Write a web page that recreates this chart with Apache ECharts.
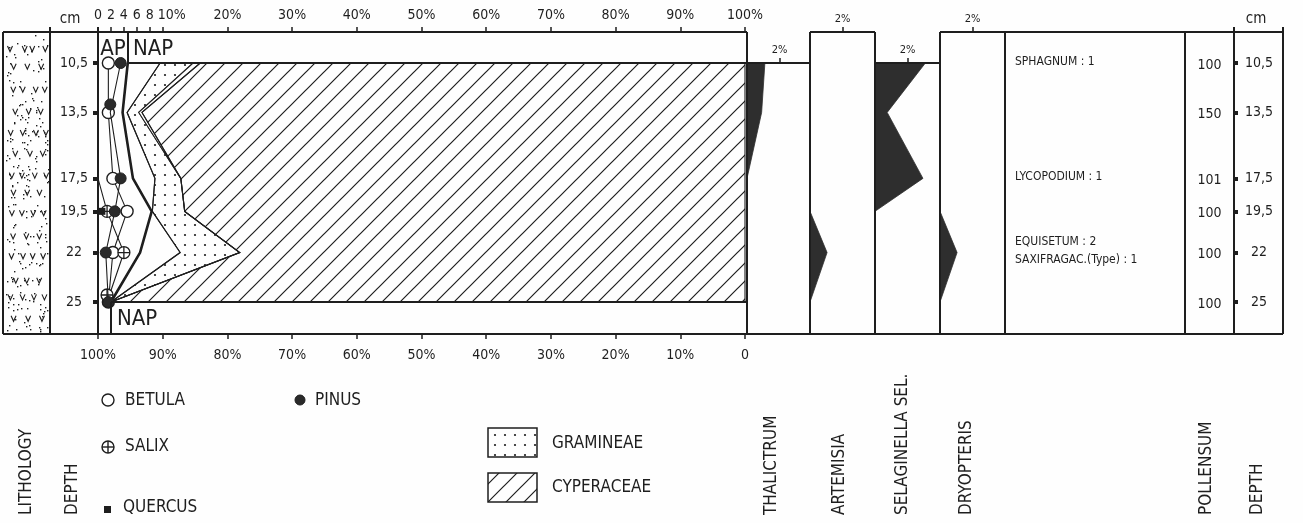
<!DOCTYPE html>
<html>
<head>
<meta charset="utf-8">
<script src="https://cdn.jsdelivr.net/npm/echarts@6/dist/echarts.min.js"></script>
<style>
  html, body { margin: 0; padding: 0; background: #fefefe; }
  #chart { width: 1303px; height: 523px; }
</style>
</head>
<body>
<div id="chart"></div>
<script>
// sample depths (cm) and their labels
const depths = [10.5, 13.5, 17.5, 19.5, 22, 25];
const depthLabels = ['10,5', '13,5', '17,5', '19,5', '22', '25'];

// AP taxa, % of total pollen
const betula = [1.6, 1.6, 2.3, 4.5, 2.3, 1.6];
const pinus = [3.5, 1.9, 3.5, 2.6, 1.2, 1.6];
const salix = [null, null, 0, 1.4, 4.0, 1.4];
const quercus = [null, null, null, 0.6, null, null];
const apSum = [4.6, 3.8, 5.4, 8.3, 6.5, 2.0];

// NAP bands stacked on top of AP sum
const otherNap = [5.0, 0.7, 3.4, 0.1, 6.2, 0];
const gramineae = [5.1, 1.8, 4.0, 5.0, 9.2, 0];
const gapNap = [1.1, 0.5, 0, 0, 0, 0];
const cyperaceae = [84.2, 93.2, 87.2, 86.6, 78.1, 98.0];

// small panels (%)
const thalictrum = [1.1, 0.9, 0, 0, 0, 0];
const artemisia = [0, 0, 0, 0, 1.05, 0];
const selaginella = [3.1, 0.75, 2.95, 0, 0, 0];
const dryopteris = [0, 0, 0, 0, 1.05, 0];

const pollenSum = [100, 150, 101, 100, 100, 100];

const topTicks = [0, 2, 4, 6, 8, 10, 20, 30, 40, 50, 60, 70, 80, 90, 100];
const bottomTicks = [0, 10, 20, 30, 40, 50, 60, 70, 80, 90, 100];

const INK = '#1e1e1e';
const FONT = "'DejaVu Sans Condensed', 'DejaVu Sans', sans-serif";

function makeCanvas(w, h, draw) {
  const c = document.createElement('canvas');
  c.width = w; c.height = h;
  draw(c.getContext('2d'));
  return c;
}

// fill textures
const dotTile = makeCanvas(10, 10, g => {
  g.fillStyle = INK;
  g.beginPath(); g.arc(5, 5, 1.1, 0, Math.PI * 2); g.fill();
});
const hatchTile = makeCanvas(18, 18, g => {
  g.strokeStyle = INK; g.lineWidth = 1.2;
  g.beginPath();
  g.moveTo(-2, 20); g.lineTo(20, -2);
  g.moveTo(-2, 2); g.lineTo(2, -2);
  g.moveTo(16, 20); g.lineTo(20, 16);
  g.stroke();
});
function hash(n) { const s = Math.sin(n * 12.9898) * 43758.5453; return s - Math.floor(s); }
const lithoImg = makeCanvas(46, 301, g => {
  g.fillStyle = INK; g.strokeStyle = INK; g.lineWidth = 1.1;
  for (let i = 0; i < 210; i++) {
    const x = 2 + hash(i + 1) * 42, y = 2 + hash(i + 500) * 297;
    g.fillRect(Math.round(x), Math.round(y), 1.4, 1.4);
  }
  for (let r = 0; r < 14; r++) {
    const y = 12 + r * 21 + hash(r + 90) * 5;
    const n = r % 2 ? 3 : 4;
    for (let k = 0; k < n; k++) {
      const x = (r % 2 ? 9 : 6) + k * (r % 2 ? 13 : 11) + hash(r * 7 + k) * 4;
      g.beginPath(); g.moveTo(x - 2.5, y - 3); g.lineTo(x, y + 2.5); g.lineTo(x + 2.5, y - 3); g.stroke();
    }
  }
});

const fillDots = { image: dotTile, repeat: 'repeat' };
const fillHatch = { image: hatchTile, repeat: 'repeat' };

// stack the NAP bands starting from the AP sum
const bands = [
  { values: otherNap, fill: '#fefefe' },
  { values: gramineae, fill: fillDots },
  { values: gapNap, fill: '#fefefe' },
  { values: cyperaceae, fill: fillHatch }
];
let acc = apSum.slice();
bands.forEach(b => {
  b.lower = acc.slice();
  acc = acc.map((v, i) => v + b.values[i]);
  b.upper = acc.slice();
});

function bandItem(params, api) {
  const b = bands[api.value(2)];
  const pts = [];
  depths.forEach((d, i) => pts.push(api.coord([b.upper[i], d])));
  for (let i = depths.length - 1; i >= 0; i--) pts.push(api.coord([b.lower[i], depths[i]]));
  return { type: 'polygon', shape: { points: pts }, style: { fill: b.fill, stroke: INK, lineWidth: 1.1 } };
}

function silhouette(values) {
  return function (params, api) {
    const pts = [api.coord([0, depths[0]])];
    depths.forEach((d, i) => pts.push(api.coord([values[i], d])));
    pts.push(api.coord([0, depths[depths.length - 1]]));
    return { type: 'polygon', shape: { points: pts }, style: { fill: '#2e2e2e', stroke: '#2e2e2e', lineWidth: 0.8 } };
  };
}

function pairs(vals) {
  const out = [];
  vals.forEach((v, i) => { if (v !== null) out.push([v, depths[i]]); });
  return out;
}

const salixSymbol = 'path://M12,2A10,10,0,1,1,12,22A10,10,0,1,1,12,2ZM2,12L22,12M12,2L12,22';

const pinusData = pairs(pinus).map((p, i) => i === 1 ? { value: p, symbolOffset: [0, -8] } : p);
const salixData = pairs(salix).map(p => {
  if (p[0] === 0) return { value: p, symbol: 'none' };
  if (p[1] === 25) return { value: p, symbolOffset: [0, -7] };
  return p;
});

const hiddenY = i => ({ type: 'value', gridIndex: i, min: 10.5, max: 25, inverse: true,
  axisLine: { show: false }, axisTick: { show: false }, axisLabel: { show: false }, splitLine: { show: false } });

function panelX(grid, max, offset) {
  return {
    type: 'value', gridIndex: grid, position: 'top', offset: offset, min: 0, max: max,
    axisLine: { show: false }, splitLine: { show: false },
    axisTick: { show: true, customValues: [2], length: 5, lineStyle: { color: INK, width: 1.5 } },
    axisLabel: { show: true, customValues: [2], formatter: '{value}%', margin: 7, color: INK, fontFamily: FONT, fontSize: 11 }
  };
}

// frame and decoration
const gl = (x1, y1, x2, y2, w) => ({ type: 'line', z: 50, shape: { x1, y1, x2, y2 }, style: { stroke: INK, lineWidth: w || 2 } });
const gt = (x, y, text, size, extra) => ({ type: 'text', z: 50, x, y,
  style: Object.assign({ text, fill: INK, font: size + 'px ' + FONT, textAlign: 'center', textVerticalAlign: 'middle' }, extra || {}) });
const vt = (x, text) => ({ type: 'text', z: 50, x, y: 515, rotation: Math.PI / 2,
  style: { text, fill: INK, font: '17px ' + FONT, textAlign: 'left', textVerticalAlign: 'middle' } });

const graphics = [
  { type: 'image', z: 40, x: 4, y: 33, style: { image: lithoImg, width: 46, height: 301 } },
  gl(3, 32, 747, 32), gl(810, 32, 875, 32), gl(940, 32, 1283, 32),
  gl(747, 63, 810, 63), gl(875, 63, 940, 63), gl(128, 63, 747, 63),
  gl(3, 334, 1283, 334),
  gl(3, 32, 3, 334), gl(50, 27, 50, 334), gl(98, 27, 98, 334), gl(747, 32, 747, 334),
  gl(810, 32, 810, 334), gl(875, 32, 875, 334), gl(940, 32, 940, 334), gl(1005, 32, 1005, 334),
  gl(1185, 32, 1185, 334), gl(1234, 27, 1234, 334), gl(1283, 27, 1283, 334),
  gl(128, 32, 128, 63), gl(111, 302, 747, 302), gl(111, 302, 111, 334),
  gt(70, 19, 'cm', 15), gt(1256, 19, 'cm', 15),
  gt(113, 49, 'AP', 22), gt(133, 49, 'NAP', 22, { textAlign: 'left' }),
  gt(117, 319, 'NAP', 22, { textAlign: 'left' }),
  gt(1015, 62, 'SPHAGNUM : 1', 12, { textAlign: 'left' }),
  gt(1015, 177, 'LYCOPODIUM : 1', 12, { textAlign: 'left' }),
  gt(1015, 242, 'EQUISETUM : 2', 12, { textAlign: 'left' }),
  gt(1015, 260, 'SAXIFRAGAC.(Type) : 1', 12, { textAlign: 'left' }),
  // legend
  { type: 'circle', z: 50, shape: { cx: 108, cy: 400, r: 6 }, style: { fill: '#fff', stroke: INK, lineWidth: 1.4 } },
  gt(125, 401, 'BETULA', 17, { textAlign: 'left' }),
  { type: 'circle', z: 50, shape: { cx: 300, cy: 400, r: 5 }, style: { fill: '#2a2a2a', stroke: INK, lineWidth: 1 } },
  gt(315, 401, 'PINUS', 17, { textAlign: 'left' }),
  { type: 'circle', z: 50, shape: { cx: 108, cy: 447, r: 6 }, style: { fill: '#fff', stroke: INK, lineWidth: 1.4 } },
  gl(102, 447, 114, 447, 1.4), gl(108, 441, 108, 453, 1.4),
  gt(125, 447, 'SALIX', 17, { textAlign: 'left' }),
  { type: 'rect', z: 50, shape: { x: 104, y: 506, width: 7, height: 7 }, style: { fill: INK } },
  gt(123, 508, 'QUERCUS', 17, { textAlign: 'left' }),
  { type: 'rect', z: 50, shape: { x: 488, y: 428, width: 49, height: 29 }, style: { fill: fillDots, stroke: INK, lineWidth: 1.5 } },
  gt(552, 444, 'GRAMINEAE', 17, { textAlign: 'left' }),
  { type: 'rect', z: 50, shape: { x: 488, y: 473, width: 49, height: 29 }, style: { fill: fillHatch, stroke: INK, lineWidth: 1.5 } },
  gt(552, 488, 'CYPERACEAE', 17, { textAlign: 'left' }),
  vt(27, 'LITHOLOGY'), vt(73, 'DEPTH'), vt(772, 'THALICTRUM'), vt(840, 'ARTEMISIA'),
  vt(903, 'SELAGINELLA SEL.'), vt(967, 'DRYOPTERIS'), vt(1207, 'POLLENSUM'), vt(1258, 'DEPTH')
];

const chart = echarts.init(document.getElementById('chart'), null, { renderer: 'canvas' });

const option = {
  backgroundColor: '#fefefe',
  animation: false,
  grid: [
    { left: 98, top: 63, width: 647, height: 239, outerBoundsMode: 'none' },
    { left: 747, top: 63, width: 63, height: 239, outerBoundsMode: 'none' },
    { left: 810, top: 63, width: 65, height: 239, outerBoundsMode: 'none' },
    { left: 875, top: 63, width: 65, height: 239, outerBoundsMode: 'none' },
    { left: 940, top: 63, width: 65, height: 239, outerBoundsMode: 'none' },
    { left: 1185, top: 63, width: 49, height: 239, outerBoundsMode: 'none' },
    { left: 1234, top: 63, width: 49, height: 239, outerBoundsMode: 'none' }
  ],
  xAxis: [
    {
      type: 'value', gridIndex: 0, position: 'top', offset: 31, min: 0, max: 100,
      axisLine: { show: false }, splitLine: { show: false },
      axisTick: { show: true, customValues: topTicks, length: 5, lineStyle: { color: INK, width: 1.5 } },
      axisLabel: {
        customValues: topTicks, margin: 10, color: INK, fontFamily: FONT, fontSize: 14,
        formatter: v => v < 10 ? String(v) : (v === 10 ? '{s|10%}' : v + '%'),
        rich: { s: { padding: [0, 0, 0, 18], color: INK, fontFamily: FONT, fontSize: 14 } }
      }
    },
    {
      type: 'value', gridIndex: 0, position: 'bottom', offset: 32, min: 0, max: 100, inverse: true,
      axisLine: { show: false }, splitLine: { show: false },
      axisTick: { show: true, customValues: bottomTicks, length: 5, lineStyle: { color: INK, width: 1.5 } },
      axisLabel: {
        customValues: bottomTicks, margin: 14, color: INK, fontFamily: FONT, fontSize: 14,
        formatter: v => v === 0 ? '0' : v + '%'
      }
    },
    panelX(1, 63 / 16.25, 0),
    panelX(2, 65 / 16.25, 31),
    panelX(3, 65 / 16.25, 0),
    panelX(4, 65 / 16.25, 31),
    { type: 'value', gridIndex: 5, min: 0, max: 1, show: false },
    { type: 'value', gridIndex: 6, min: 0, max: 1, show: false }
  ],
  yAxis: [
    {
      type: 'value', gridIndex: 0, min: 10.5, max: 25, inverse: true,
      axisLine: { show: false }, splitLine: { show: false },
      axisTick: { show: true, customValues: depths, length: 5, lineStyle: { color: INK, width: 4 } },
      axisLabel: {
        customValues: depths, margin: 24, align: 'center', color: INK, fontFamily: FONT, fontSize: 14,
        formatter: v => depthLabels[depths.indexOf(v)]
      }
    },
    hiddenY(1), hiddenY(2), hiddenY(3), hiddenY(4), hiddenY(5),
    {
      type: 'value', gridIndex: 6, min: 10.5, max: 25, inverse: true,
      axisLine: { show: false }, splitLine: { show: false },
      axisTick: { show: true, inside: true, customValues: depths, length: 4, lineStyle: { color: INK, width: 4 } },
      axisLabel: {
        inside: true, customValues: depths, margin: 25, align: 'center', color: INK, fontFamily: FONT, fontSize: 14,
        formatter: v => depthLabels[depths.indexOf(v)]
      }
    }
  ],
  series: [
    {
      type: 'custom', xAxisIndex: 0, yAxisIndex: 0, silent: true, clip: false, z: 2,
      data: bands.map((b, i) => [0, depths[0], i]),
      encode: { x: 0, y: 1 },
      renderItem: bandItem
    },
    {
      name: 'AP', type: 'line', xAxisIndex: 0, yAxisIndex: 0, z: 5, symbol: 'none',
      lineStyle: { color: INK, width: 2.6 },
      data: pairs(apSum)
    },
    {
      name: 'Betula', type: 'line', xAxisIndex: 0, yAxisIndex: 0, z: 6,
      symbol: 'circle', symbolSize: 12,
      lineStyle: { color: INK, width: 1.1 },
      itemStyle: { color: '#fff', borderColor: INK, borderWidth: 1.4 },
      data: pairs(betula)
    },
    {
      name: 'Salix', type: 'line', xAxisIndex: 0, yAxisIndex: 0, z: 7,
      symbol: salixSymbol, symbolSize: 12,
      lineStyle: { color: INK, width: 1.1 },
      itemStyle: { color: '#fff', borderColor: INK, borderWidth: 1.3 },
      data: salixData
    },
    {
      name: 'Pinus', type: 'line', xAxisIndex: 0, yAxisIndex: 0, z: 8,
      symbol: 'circle', symbolSize: 11,
      lineStyle: { color: INK, width: 1.1 },
      itemStyle: { color: '#2a2a2a', borderColor: INK, borderWidth: 1 },
      data: pinusData
    },
    {
      name: 'Quercus', type: 'scatter', xAxisIndex: 0, yAxisIndex: 0, z: 9,
      symbol: 'rect', symbolSize: 7, itemStyle: { color: INK, opacity: 1 },
      data: pairs(quercus)
    },
    { type: 'custom', xAxisIndex: 2, yAxisIndex: 1, silent: true, clip: false, data: [[0, 10.5]], renderItem: silhouette(thalictrum) },
    { type: 'custom', xAxisIndex: 3, yAxisIndex: 2, silent: true, clip: false, data: [[0, 10.5]], renderItem: silhouette(artemisia) },
    { type: 'custom', xAxisIndex: 4, yAxisIndex: 3, silent: true, clip: false, data: [[0, 10.5]], renderItem: silhouette(selaginella) },
    { type: 'custom', xAxisIndex: 5, yAxisIndex: 4, silent: true, clip: false, data: [[0, 10.5]], renderItem: silhouette(dryopteris) },
    {
      name: 'Pollensum', type: 'scatter', xAxisIndex: 6, yAxisIndex: 5, silent: true,
      symbolSize: 1, itemStyle: { color: 'rgba(0,0,0,0)', opacity: 1 },
      label: {
        show: true, position: 'inside', offset: [0, 2], color: INK, opacity: 1, fontFamily: FONT, fontSize: 14,
        formatter: p => String(p.value[2])
      },
      data: depths.map((d, i) => [0.5, d, pollenSum[i]])
    }
  ],
  graphic: graphics
};

chart.setOption(option);
</script>
</body>
</html>
